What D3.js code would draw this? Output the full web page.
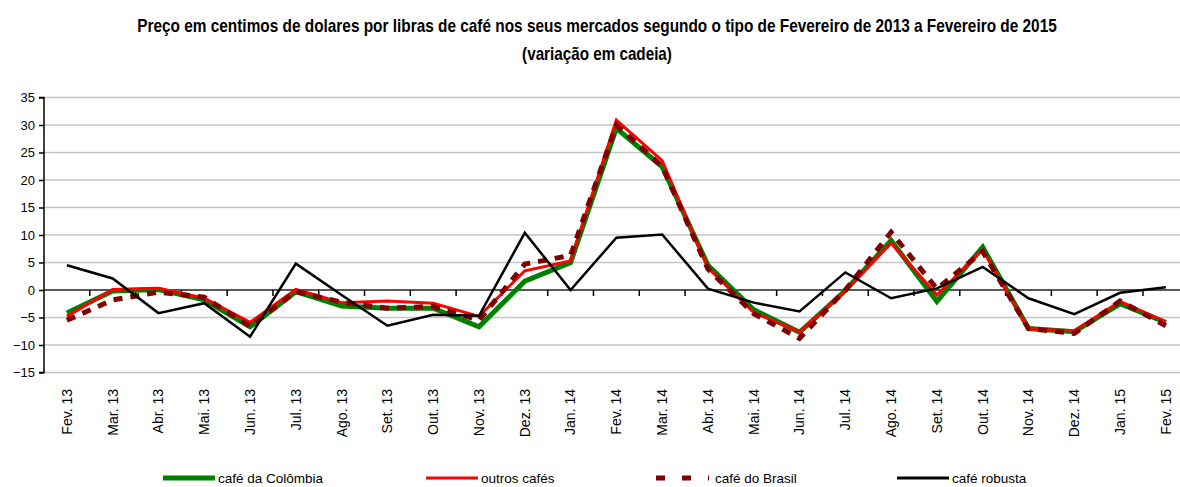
<!DOCTYPE html>
<html>
<head>
<meta charset="utf-8">
<script src="https://cdn.jsdelivr.net/npm/d3@7/dist/d3.min.js"></script>
<style>
  html, body { margin: 0; padding: 0; background: #fff; }
  svg { display: block; }
</style>
</head>
<body>
<svg id="chart" width="1180" height="487"></svg>
<script>
const categories = ["Fev. 13","Mar. 13","Abr. 13","Mai. 13","Jun. 13","Jul. 13","Ago. 13","Set. 13","Out. 13","Nov. 13","Dez. 13","Jan. 14","Fev. 14","Mar. 14","Abr. 14","Mai. 14","Jun. 14","Jul. 14","Ago. 14","Set. 14","Out. 14","Nov. 14","Dez. 14","Jan. 15","Fev. 15"];
const cafeColombia = [-4.2,-0.2,0.1,-1.8,-6.7,-0.3,-2.9,-3.3,-3.3,-6.7,1.6,5.0,29.4,22.4,4.5,-3.6,-7.7,-0.1,9.0,-2.1,7.8,-7.0,-7.6,-2.5,-5.9];
const outrosCafes = [-4.8,0.1,0.3,-1.5,-5.9,0.1,-2.3,-2.0,-2.4,-4.8,3.5,5.3,30.9,23.5,4.0,-4.1,-7.6,-0.2,8.5,-0.9,7.3,-7.1,-7.4,-2.1,-5.8];
const cafeBrasil = [-5.5,-1.8,-0.4,-1.3,-6.6,-0.3,-2.2,-3.3,-3.0,-5.5,4.7,6.3,30.0,22.5,3.8,-4.3,-8.8,0.0,10.5,0.2,7.0,-7.0,-7.9,-2.0,-6.5];
const cafeRobusta = [4.5,2.1,-4.2,-2.4,-8.5,4.8,-0.9,-6.5,-4.5,-4.7,10.4,0.0,9.5,10.1,0.25,-2.3,-3.9,3.2,-1.5,0.3,4.2,-1.5,-4.4,-0.5,0.5];
const yTicks = [-15,-10,-5,0,5,10,15,20,25,30,35];
const seriesNames = ["café da Colômbia","outros cafés","café do Brasil","café robusta"];
const titleLines = ["Preço em centimos de dolares por libras de café nos seus mercados segundo o tipo de Fevereiro de 2013 a Fevereiro de 2015","(variação em cadeia)"];

const svg = d3.select("#chart");
const plotLeft = 44, bandW = 45.79;
const x = d3.scaleBand().domain(categories).range([plotLeft, plotLeft + bandW * categories.length]).padding(0);
const y = d3.scaleLinear().domain([-15, 35]).range([372.5, 97.5]);
const cx = d => x(d) + x.bandwidth() / 2;
const plotRight = 1180;

// Title (condensed bold, horizontally scaled to the reference width)
const tWidths = [920, 150];
const tY = [32, 60];
titleLines.forEach((t, i) => {
  const g = svg.append("g");
  const el = g.append("text")
    .attr("x", 0).attr("y", 0)
    .attr("text-anchor", "middle")
    .style("font-family", "'Liberation Sans Narrow', 'Arial Narrow', 'Liberation Sans', Arial, sans-serif")
    .style("font-weight", "bold")
    .style("font-size", "18px")
    .attr("fill", "#000")
    .text(t);
  const w = el.node().getComputedTextLength();
  const sx = w > 0 ? tWidths[i] / w : 1;
  g.attr("transform", `translate(597,${tY[i]}) scale(${sx},1)`);
});

// Gridlines
svg.append("g").selectAll("line").data(yTicks.filter(v => v !== 0)).join("line")
  .attr("x1", plotLeft).attr("x2", plotRight)
  .attr("y1", d => y(d)).attr("y2", d => y(d))
  .attr("stroke", "#c4c4c4").attr("stroke-width", 1.5);

// Y axis
const yAxis = d3.axisLeft(y).tickValues(yTicks).tickSize(5).tickPadding(4);
const yg = svg.append("g").attr("transform", `translate(${plotLeft},0)`).call(yAxis);
yg.select(".domain").attr("stroke", "#000").attr("stroke-width", 1.5).attr("d", `M-5,${y(-15)}H0V${y(35)}H-5`);
yg.selectAll(".tick line").attr("stroke", "#000").attr("stroke-width", 1.5);
yg.selectAll(".tick text").style("font-family", "'Liberation Sans', Arial, sans-serif").style("font-size", "13px").attr("fill", "#000");

// Zero line with ticks (x axis)
const xAxis = d3.axisBottom(x).tickSize(0).tickFormat("");
const xg = svg.append("g").attr("transform", `translate(0,${y(0)})`).call(xAxis);
xg.select(".domain").remove();
xg.append("line").attr("x1", plotLeft).attr("x2", plotRight).attr("y1", 0).attr("y2", 0).attr("stroke", "#222").attr("stroke-width", 1.5);
xg.selectAll("line.bt").data(categories.slice(1)).join("line").attr("class", "bt")
  .attr("x1", d => x(d)).attr("x2", d => x(d)).attr("y1", 0).attr("y2", 6)
  .attr("stroke", "#000").attr("stroke-width", 1.5);

// X labels
svg.append("g").selectAll("text").data(categories).join("text")
  .attr("transform", d => `translate(${cx(d)},389) rotate(-90)`)
  .attr("text-anchor", "end")
  .attr("dy", "0.35em")
  .style("font-family", "'Liberation Sans', Arial, sans-serif")
  .style("font-size", "14px")
  .attr("fill", "#000")
  .text(d => d);

// Lines
const lineGen = d3.line().x((d, i) => cx(categories[i])).y(d => y(d));
const series = [
  { name: seriesNames[0], data: cafeColombia, color: "#008000", width: 5, dash: null },
  { name: seriesNames[1], data: outrosCafes, color: "#ff0000", width: 3, dash: null },
  { name: seriesNames[2], data: cafeBrasil, color: "#800000", width: 5, dash: "9,8" },
  { name: seriesNames[3], data: cafeRobusta, color: "#000000", width: 2.5, dash: null }
];
svg.append("g").selectAll("path").data(series).join("path")
  .attr("d", s => lineGen(s.data))
  .attr("fill", "none")
  .attr("stroke", s => s.color)
  .attr("stroke-width", s => s.width)
  .attr("stroke-dasharray", s => s.dash)
  .attr("stroke-linejoin", "miter");

// Legend
const legendX = [163, 426, 656, 897];
const legendY = 478;
const lg = svg.append("g");
series.forEach((s, i) => {
  if (s.dash) {
    lg.append("line").attr("x1", legendX[i]).attr("x2", legendX[i] + 53)
      .attr("y1", legendY).attr("y2", legendY)
      .attr("stroke", s.color).attr("stroke-width", 5).attr("stroke-dasharray", "9,17");
  } else {
    lg.append("line").attr("x1", legendX[i]).attr("x2", legendX[i] + 52)
      .attr("y1", legendY).attr("y2", legendY)
      .attr("stroke", s.color).attr("stroke-width", i === 0 ? 5 : 3);
  }
  lg.append("text").attr("x", legendX[i] + (s.dash ? 59 : 55)).attr("y", legendY)
    .attr("dy", "0.35em")
    .style("font-family", "'Liberation Sans', Arial, sans-serif")
    .style("font-size", "13.5px")
    .attr("fill", "#000")
    .text(s.name);
});
</script>
</body>
</html>
